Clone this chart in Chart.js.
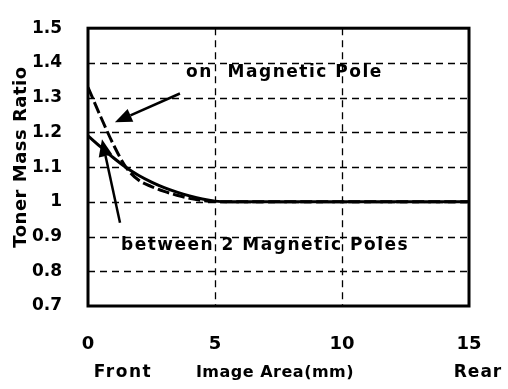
<!DOCTYPE html>
<html>
<head>
<meta charset="utf-8">
<script src="https://cdn.jsdelivr.net/npm/chart.js@4"></script>
<style>
  html, body { margin: 0; padding: 0; background: #fff; }
  #wrap { width: 508px; height: 389px; position: relative; }
</style>
</head>
<body>
<div id="wrap"><canvas id="tonerChart" width="508" height="389"></canvas></div>
<script>
// values
const positions = [0, 0.5, 1, 1.5, 2, 2.5, 3, 3.5, 4, 4.5, 5, 5.5, 6, 8, 10, 12, 15];
const onPole = [1.33, 1.245, 1.165, 1.099, 1.062, 1.044, 1.030, 1.019, 1.010, 1.004, 1.001, 1.0, 1.0, 1.0, 1.0, 1.0, 1.0];
const betweenPoles = [1.19, 1.158, 1.127, 1.099, 1.076, 1.057, 1.041, 1.028, 1.017, 1.008, 1.002, 1.0, 1.0, 1.0, 1.0, 1.0, 1.0];
const xTickLabels = ['0', '5', '10', '15'];
const yTickLabels = ['0.7', '0.8', '0.9', '1', '1.1', '1.2', '1.3', '1.4', '1.5'];

const FONT = 'DejaVu Sans';
const toXY = (ys) => positions.map((x, i) => ({ x, y: ys[i] }));

function arrow(ctx, x1, y1, x2, y2) {
  const ang = Math.atan2(y2 - y1, x2 - x1);
  const len = 17, half = 7;
  const bx = x2 - len * Math.cos(ang), by = y2 - len * Math.sin(ang);
  ctx.beginPath();
  ctx.moveTo(x1, y1);
  ctx.lineTo(bx, by);
  ctx.stroke();
  ctx.beginPath();
  ctx.moveTo(x2, y2);
  ctx.lineTo(bx + half * Math.sin(ang), by - half * Math.cos(ang));
  ctx.lineTo(bx - half * Math.sin(ang), by + half * Math.cos(ang));
  ctx.closePath();
  ctx.fill();
}

// dashed grid, drawn at the scale's own tick positions
const dashedGrid = {
  id: 'dashedGrid',
  beforeDatasetsDraw(chart) {
    const { ctx, chartArea: a, scales } = chart;
    ctx.save();
    ctx.strokeStyle = '#000';
    ctx.lineWidth = 1.3;
    ctx.setLineDash([7, 5]);
    scales.x.ticks.forEach((t) => {
      if (t.value <= scales.x.min || t.value >= scales.x.max) return;
      const x = Math.round(scales.x.getPixelForValue(t.value)) + 0.5;
      ctx.beginPath();
      ctx.moveTo(x, a.top);
      ctx.lineTo(x, a.bottom);
      ctx.stroke();
    });
    scales.y.ticks.forEach((t) => {
      if (t.value <= scales.y.min + 1e-9 || t.value >= scales.y.max - 1e-9) return;
      const y = Math.round(scales.y.getPixelForValue(t.value)) + 0.5;
      ctx.beginPath();
      ctx.moveTo(a.left, y);
      ctx.lineTo(a.right, y);
      ctx.stroke();
    });
    ctx.restore();
  }
};

const decorations = {
  id: 'decorations',
  afterDatasetsDraw(chart) {
    const { ctx, chartArea: a, scales } = chart;
    const px = (v) => scales.x.getPixelForValue(v);
    const py = (v) => scales.y.getPixelForValue(v);
    ctx.save();
    ctx.strokeStyle = '#000';
    ctx.fillStyle = '#000';
    ctx.lineWidth = 3;
    ctx.strokeRect(a.left, a.top, a.right - a.left, a.bottom - a.top);

    ctx.lineWidth = 2.5;
    arrow(ctx, px(3.62), py(1.312), px(1.06), py(1.229));
    arrow(ctx, px(1.26), py(0.94), px(0.55), py(1.18));

    ctx.font = 'bold 17px "' + FONT + '"';
    ctx.textBaseline = 'middle';
    ctx.textAlign = 'left';
    ctx.letterSpacing = '1.5px';
    ctx.fillText('on  Magnetic Pole', 186, 73);
    ctx.fillText('between 2 Magnetic Poles', 121, 246);

    ctx.textAlign = 'center';
    ctx.letterSpacing = '1.5px';
    ctx.fillText('Front', 123, 373);
    ctx.letterSpacing = '0.5px';
    ctx.font = 'bold 16px "' + FONT + '"';
    ctx.fillText('Image Area(mm)', 275, 373);
    ctx.letterSpacing = '1px';
    ctx.font = 'bold 17px "' + FONT + '"';
    ctx.fillText('Rear', 478, 373);

    ctx.letterSpacing = '0.5px';
    ctx.font = 'bold 18px "' + FONT + '"';
    ctx.translate(21, 157);
    ctx.rotate(-Math.PI / 2);
    ctx.fillText('Toner Mass Ratio', 0, 0);
    ctx.restore();
  }
};

new Chart(document.getElementById('tonerChart'), {
  type: 'line',
  data: {
    datasets: [
      {
        label: 'on Magnetic Pole',
        data: toXY(onPole),
        borderColor: '#000',
        borderWidth: 3,
        borderDash: [12, 4],
        pointRadius: 0,
        cubicInterpolationMode: 'monotone',
        fill: false
      },
      {
        label: 'between 2 Magnetic Poles',
        data: toXY(betweenPoles),
        borderColor: '#000',
        borderWidth: 3,
        pointRadius: 0,
        cubicInterpolationMode: 'monotone',
        fill: false
      }
    ]
  },
  options: {
    responsive: false,
    animation: false,
    events: [],
    layout: { padding: { top: 17, right: 39, left: 0, bottom: 0 } },
    plugins: {
      legend: { display: false },
      tooltip: { enabled: false }
    },
    scales: {
      x: {
        type: 'linear',
        min: 0,
        max: 15,
        afterFit(s) { s.height = 83; },
        ticks: {
          stepSize: 5,
          color: '#000',
          padding: 20,
          font: { family: FONT, weight: 'bold', size: 18 },
          callback: (v) => xTickLabels[Math.round(v / 5)]
        },
        grid: { display: false },
        border: { display: false }
      },
      y: {
        min: 0.7,
        max: 1.5,
        afterFit(s) { s.width = 88; },
        ticks: {
          stepSize: 0.1,
          color: '#000',
          padding: 18,
          font: { family: FONT, weight: 'bold', size: 17 },
          callback: (v) => yTickLabels[Math.round((v - 0.7) * 10)]
        },
        grid: { display: false },
        border: { display: false }
      }
    }
  },
  plugins: [dashedGrid, decorations]
});
</script>
</body>
</html>
